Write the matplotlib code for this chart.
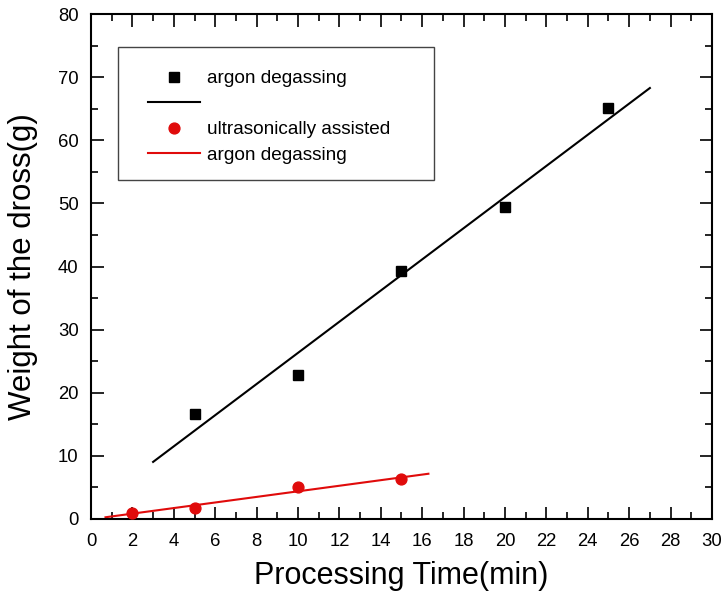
import numpy as np
import matplotlib.pyplot as plt
from matplotlib.lines import Line2D
from matplotlib.patches import Rectangle
from matplotlib.ticker import MultipleLocator

plt.rcParams['font.family'] = ['Liberation Sans', 'DejaVu Sans']

# dross weight vs processing time
time_argon = [5, 10, 15, 20, 25]
dross_argon = [16.7, 22.8, 39.3, 49.4, 65.1]
time_ultra = [2, 5, 10, 15]
dross_ultra = [0.9, 1.8, 5.0, 6.3]

# extent of the fitted lines
fit_range_argon = [3, 27]
fit_range_ultra = [0.7, 16.3]

RED = '#e00b0b'

fig = plt.figure(figsize=(7.24, 5.96), dpi=100)
ax = fig.add_axes([0.1257, 0.1292, 0.8577, 0.8473])

# linear fits
k1, b1 = np.polyfit(time_argon, dross_argon, 1)
k2, b2 = np.polyfit(time_ultra, dross_ultra, 1)
xf1 = np.array(fit_range_argon)
xf2 = np.array(fit_range_ultra)

ax.plot(time_argon, dross_argon, 's', color='black', markersize=6.5, zorder=3)
ax.plot(xf1, k1 * xf1 + b1, '-', color='black', lw=1.5)
ax.plot(time_ultra, dross_ultra, 'o', color=RED, markersize=7.8, zorder=3)
ax.plot(xf2, k2 * xf2 + b2, '-', color=RED, lw=1.5)

ax.set_xlim(0, 30)
ax.set_ylim(0, 80)
ax.xaxis.set_major_locator(MultipleLocator(2))
ax.xaxis.set_minor_locator(MultipleLocator(1))
ax.yaxis.set_major_locator(MultipleLocator(10))
ax.yaxis.set_minor_locator(MultipleLocator(5))
ax.tick_params(which='both', direction='in', top=True, right=True,
               labelsize=13.3, width=1.2)
ax.tick_params(axis='x', pad=10)
ax.tick_params(axis='y', pad=9)
ax.tick_params(which='major', length=9)
ax.tick_params(which='minor', length=5)
for sp in ax.spines.values():
    sp.set_linewidth(1.5)

ax.set_xlabel('Processing Time(min)', fontsize=22, labelpad=8)
ax.set_ylabel('Weight of the dross(g)', fontsize=22.5, labelpad=14)

# legend box
ax.add_patch(Rectangle((0.0435, 0.671), 0.509, 0.264, transform=ax.transAxes,
                       fill=False, edgecolor='#444444', lw=1.0, zorder=4))

handles = [
    Line2D([], [], marker='s', color='black', ls='none', markersize=6.5),
    Line2D([], [], color='black', lw=1.5),
    Line2D([], [], marker='o', color=RED, ls='none', markersize=7.8),
    Line2D([], [], color=RED, lw=1.5),
]
labels = ['argon degassing', ' ', 'ultrasonically assisted', 'argon degassing']
ax.legend(handles, labels, loc='upper left', bbox_to_anchor=(0.0918, 0.889),
          fontsize=13.7, frameon=False, handlelength=2.73, handletextpad=0.37,
          labelspacing=0.43, borderpad=0, borderaxespad=0)

fig.savefig('out.png', dpi=100)
